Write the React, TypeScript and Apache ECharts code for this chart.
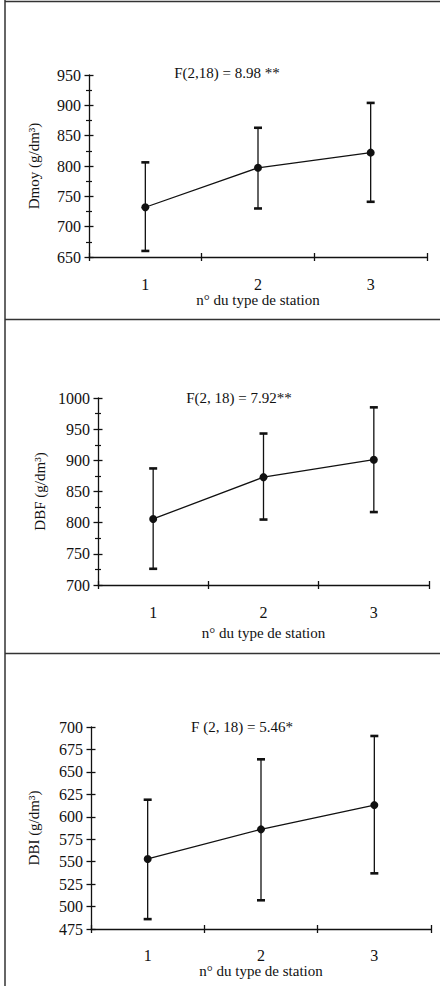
import React, { useEffect, useRef } from 'react';
import * as echarts from 'echarts';

const stations = ['1', '2', '3'];

const dmoyMean = [732, 797, 822];
const dmoyLow = [660, 730, 741];
const dmoyHigh = [806, 863, 904];

const dbfMean = [806, 873, 901];
const dbfLow = [726, 805, 817];
const dbfHigh = [887, 943, 985];

const dbiMean = [553, 586, 613];
const dbiLow = [486, 507, 537];
const dbiHigh = [619, 664, 690];

const yNames = ['Dmoy (g/dm³)', 'DBF (g/dm³)', 'DBI (g/dm³)'];
const fTexts = ['F(2,18) = 8.98 **', 'F(2, 18) = 7.92**', 'F (2, 18) = 5.46*'];
const xName = 'n° du type de station';

const yMins = [650, 700, 475];
const yMaxs = [950, 1000, 700];
const yIntervals = [50, 50, 25];

const FONT = '"Liberation Serif", "Times New Roman", serif';
const INK = '#111';

export default function App() {
  const ref = useRef<HTMLDivElement>(null);

  useEffect(() => {
    if (!ref.current) return;
    const chart = echarts.init(ref.current, undefined, { renderer: 'svg' });

    const means = [dmoyMean, dbfMean, dbiMean];
    const lows = [dmoyLow, dbfLow, dbiLow];
    const highs = [dmoyHigh, dbfHigh, dbiHigh];

    const grids = [
      { left: 89, right: 13, top: 75, height: 182 },
      { left: 98, right: 11, top: 398, height: 187 },
      { left: 91, right: 9, top: 727, height: 202 },
    ];
    const xLabelMargin = [19, 19, 18];
    const xNameGap = [33, 40, 32];
    const yNameGap = [48, 50, 50];
    const fPos = [
      [227, 73],
      [239, 398],
      [242, 727],
    ];
    const minorShow = [true, true, false];

    const xAxis: any[] = [];
    const yAxis: any[] = [];
    const series: any[] = [];
    const graphic: any[] = [];

    grids.forEach((g, k) => {
      const baseX = {
        type: 'category',
        gridIndex: k,
        position: 'bottom',
        data: stations,
        boundaryGap: true,
      };
      xAxis.push({
        ...baseX,
        name: xName,
        nameLocation: 'middle',
        nameGap: xNameGap[k],
        nameTextStyle: { fontFamily: FONT, fontSize: 15, color: INK },
        axisLine: { show: true, lineStyle: { color: INK, width: 1.3 } },
        axisTick: { show: true, length: 4, lineStyle: { color: INK, width: 1.3 } },
        axisLabel: { fontFamily: FONT, fontSize: 16, color: INK, margin: xLabelMargin[k] },
        splitLine: { show: false },
      });
      xAxis.push({
        ...baseX,
        axisLine: { show: false },
        axisTick: { show: true, inside: true, length: 4, lineStyle: { color: INK, width: 1.3 } },
        axisLabel: { show: false },
        splitLine: { show: false },
      });
      const baseY = {
        type: 'value',
        gridIndex: k,
        position: 'left',
        min: yMins[k],
        max: yMaxs[k],
        interval: yIntervals[k],
      };
      yAxis.push({
        ...baseY,
        name: yNames[k],
        nameLocation: 'middle',
        nameGap: yNameGap[k],
        nameTextStyle: { fontFamily: FONT, fontSize: 15, color: INK },
        axisLine: { show: true, lineStyle: { color: INK, width: 1.3 } },
        axisTick: { show: true, length: 4.5, lineStyle: { color: INK, width: 1.3 } },
        minorTick: { show: minorShow[k], splitNumber: 2, length: 3, lineStyle: { color: INK, width: 1.2 } },
        axisLabel: {
          fontFamily: FONT,
          fontSize: 16,
          color: INK,
          margin: 8,
          formatter: (v: number) => String(v),
        },
        splitLine: { show: false },
        minorSplitLine: { show: false },
      });
      yAxis.push({
        ...baseY,
        axisLine: { show: false },
        axisTick: { show: true, inside: true, length: 4.5, lineStyle: { color: INK, width: 1.3 } },
        minorTick: { show: minorShow[k], splitNumber: 2, length: 3, lineStyle: { color: INK, width: 1.2 } },
        axisLabel: { show: false },
        splitLine: { show: false },
        minorSplitLine: { show: false },
      });

      series.push({
        type: 'custom',
        xAxisIndex: 2 * k,
        yAxisIndex: 2 * k,
        encode: { x: 0, y: [1, 2] },
        data: stations.map((_, i) => [i, lows[k][i], highs[k][i]]),
        z: 2,
        renderItem: (_p: any, api: any) => {
          const x = api.value(0);
          const pLo = api.coord([x, api.value(1)]);
          const pHi = api.coord([x, api.value(2)]);
          const w = 4;
          return {
            type: 'group',
            children: [
              { type: 'line', shape: { x1: pLo[0], y1: pLo[1], x2: pHi[0], y2: pHi[1] }, style: { stroke: INK, lineWidth: 1.3 } },
              { type: 'line', shape: { x1: pHi[0] - w, y1: pHi[1], x2: pHi[0] + w, y2: pHi[1] }, style: { stroke: INK, lineWidth: 2.6 } },
              { type: 'line', shape: { x1: pLo[0] - w, y1: pLo[1], x2: pLo[0] + w, y2: pLo[1] }, style: { stroke: INK, lineWidth: 2.6 } },
            ],
          };
        },
      });
      series.push({
        type: 'line',
        xAxisIndex: 2 * k,
        yAxisIndex: 2 * k,
        data: means[k],
        symbol: 'circle',
        symbolSize: 8,
        z: 3,
        itemStyle: { color: INK },
        lineStyle: { color: INK, width: 1.3 },
      });

      graphic.push({
        type: 'text',
        x: fPos[k][0],
        y: fPos[k][1],
        style: {
          text: fTexts[k],
          fontFamily: FONT,
          fontSize: 15,
          fill: INK,
          textAlign: 'center',
          textVerticalAlign: 'middle',
        },
      });
    });

    const frameStyle = { stroke: '#333', lineWidth: 1.5 };
    graphic.push({ type: 'line', shape: { x1: 5, y1: 1.5, x2: 440, y2: 1.5 }, style: frameStyle });
    graphic.push({ type: 'line', shape: { x1: 5, y1: 0, x2: 5, y2: 986 }, style: frameStyle });
    graphic.push({ type: 'line', shape: { x1: 5, y1: 319.5, x2: 440, y2: 319.5 }, style: frameStyle });
    graphic.push({ type: 'line', shape: { x1: 5, y1: 653.5, x2: 440, y2: 653.5 }, style: frameStyle });

    chart.setOption({
      animation: false,
      backgroundColor: '#fff',
      grid: grids.map((g) => ({ ...g, containLabel: false })),
      xAxis,
      yAxis,
      series,
      graphic,
    });

    return () => chart.dispose();
  }, []);

  return (
    <div
      ref={ref}
      style={{ position: 'absolute', left: 0, top: 0, width: 440, height: 986 }}
    />
  );
}
